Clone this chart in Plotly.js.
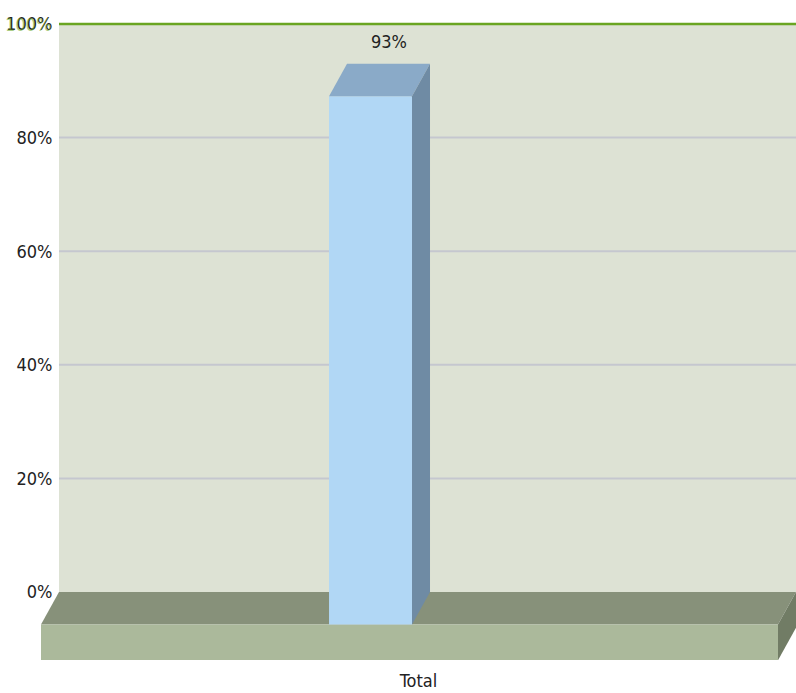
<!DOCTYPE html>
<html>
<head>
<meta charset="utf-8">
<script src="https://cdn.plot.ly/plotly-3.0.1.min.js"></script>
<style>
  html, body { margin: 0; padding: 0; background: #ffffff; }
  #chart { width: 796px; height: 693px; }
</style>
</head>
<body>
<div id="chart"></div>
<script>
// ---- data ----
const categories = ['Total'];
const values = [93];
const valueLabels = ['93%'];
const yTickVals = [0, 20, 40, 60, 80, 100];
const yTickText = ['0%', '20%', '40%', '60%', '80%', '100%'];
const targetValue = 100;
const targetLabel = '100%';

// ---- style / 3D geometry (axis units) ----
const DX = 0.02384;      // horizontal depth offset (x units)
const DY = 5.72;         // vertical depth offset (y units)
const BAR_W = 0.1099;
const BAR_OFF = -0.1185;
const FLOOR_T = 6.3;
const YMIN = -11.97, YMAX = 100.704;
const FONT = 'DejaVu Sans Condensed, DejaVu Sans, sans-serif';

const xIdx = categories.map((_, i) => i);

const shapes = [];
// back wall
shapes.push({type: 'rect', xref: 'x', yref: 'y', x0: -0.5 + DX, x1: 0.5, y0: 0, y1: targetValue,
  fillcolor: '#dde2d4', line: {width: 0}, layer: 'below'});
// gridlines
yTickVals.forEach(t => {
  if (t > 0 && t < targetValue) {
    shapes.push({type: 'line', xref: 'x', yref: 'y', x0: -0.5 + DX, x1: 0.5, y0: t, y1: t,
      line: {color: '#c5c7cf', width: 2}, layer: 'below'});
  }
});
// target line
shapes.push({type: 'line', xref: 'x', yref: 'y', x0: -0.5 + DX, x1: 0.5, y0: targetValue, y1: targetValue,
  line: {color: '#6aa522', width: 2.5}, layer: 'below'});
// floor: top face
shapes.push({type: 'path', xref: 'x', yref: 'y', layer: 'below',
  path: `M${-0.5 + DX},0 L0.5,0 L${0.5 - DX},${-DY} L-0.5,${-DY} Z`,
  fillcolor: '#87917a', line: {width: 0}});
// floor: front face
shapes.push({type: 'rect', xref: 'x', yref: 'y', layer: 'below',
  x0: -0.5, x1: 0.5 - DX, y0: -DY - FLOOR_T, y1: -DY,
  fillcolor: '#abb99b', line: {width: 0}});
// floor: right face
shapes.push({type: 'path', xref: 'x', yref: 'y', layer: 'below',
  path: `M${0.5 - DX},${-DY} L0.5,0 L0.5,${-FLOOR_T} L${0.5 - DX},${-DY - FLOOR_T} Z`,
  fillcolor: '#717c65', line: {width: 0}});

// bar 3D faces
values.forEach((v, i) => {
  const x0 = i + BAR_OFF, x1 = x0 + BAR_W, top = v - DY;
  shapes.push({type: 'path', xref: 'x', yref: 'y', layer: 'above',
    path: `M${x0},${top} L${x1},${top} L${x1 + DX},${v} L${x0 + DX},${v} Z`,
    fillcolor: '#8aaac8', line: {width: 0}});
  shapes.push({type: 'path', xref: 'x', yref: 'y', layer: 'above',
    path: `M${x1},${top} L${x1 + DX},${v} L${x1 + DX},0 L${x1},${-DY} Z`,
    fillcolor: '#6f8ba4', line: {width: 0}});
});

const annotations = values.map((v, i) => ({
  x: i + BAR_OFF + BAR_W / 2 + DX, y: v, xref: 'x', yref: 'y',
  text: valueLabels[i], showarrow: false, yanchor: 'bottom', yshift: 10,
  font: {family: FONT, size: 18, color: '#222222'}
}));
annotations.push({
  xref: 'paper', yref: 'y', x: DX, y: targetValue, xanchor: 'right', yanchor: 'middle',
  xshift: -6, text: targetLabel, showarrow: false,
  font: {family: FONT, size: 18, color: '#6aa522'}, opacity: 0.55
});

const trace = {
  type: 'bar', x: xIdx, y: values, base: values.map(() => -DY),
  offset: BAR_OFF, width: BAR_W,
  marker: {color: '#b1d7f5', line: {width: 0}},
  hoverinfo: 'none', textposition: 'none'
};

const layout = {
  width: 796, height: 693,
  margin: {l: 41, r: 0, t: 20, b: 33, pad: 0},
  paper_bgcolor: '#ffffff', plot_bgcolor: '#ffffff',
  showlegend: false,
  font: {family: FONT, size: 18, color: '#222222'},
  xaxis: {range: [-0.5, 0.5], tickvals: xIdx, ticktext: categories,
    showgrid: false, zeroline: false, showline: false,
    ticks: 'outside', ticklen: 4, tickcolor: 'rgba(0,0,0,0)',
    tickfont: {family: FONT, size: 18, color: '#222222'}, fixedrange: true},
  yaxis: {range: [YMIN, YMAX], tickvals: yTickVals, ticktext: yTickText,
    showgrid: false, zeroline: false, showline: false,
    ticks: 'outside', ticklen: 3, tickcolor: 'rgba(0,0,0,0)',
    anchor: 'free', position: DX,
    tickfont: {family: FONT, size: 18, color: '#222222'}, fixedrange: true},
  shapes: shapes,
  annotations: annotations
};

Plotly.newPlot('chart', [trace], layout, {displayModeBar: false, staticPlot: true});
</script>
</body>
</html>
